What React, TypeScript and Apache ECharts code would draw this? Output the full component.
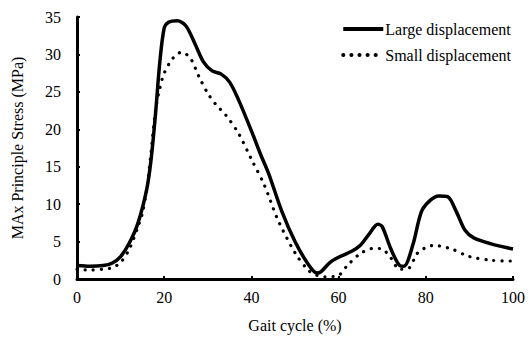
import React, { useEffect, useRef } from "react";
import * as echarts from "echarts";

const seriesNames = ["Large displacement", "Small displacement"];

const largeData: [number, number][] = [
  [0, 1.8], [3, 1.7], [6, 1.8], [8, 2.1], [10, 3.0], [12, 4.8], [14, 7.5], [16, 12],
  [17, 16], [18, 22], [19, 29], [20, 33.5], [21, 34.3], [23, 34.5], [25, 33.8],
  [27, 31.5], [29, 29], [31, 27.8], [33, 27.4], [35, 26.3], [37, 24], [40, 19.8],
  [42, 16.8], [44, 14], [47, 9], [50, 5], [53, 2], [55, 0.8], [56, 1], [58, 2.2],
  [60, 2.9], [63, 3.7], [65, 4.5], [67, 6], [69, 7.3], [70, 7], [72, 4], [74, 1.8],
  [75, 1.7], [77, 4.5], [79, 9], [81, 10.5], [83, 11.1], [85, 11], [87, 9], [89, 6.5],
  [91, 5.5], [95, 4.7], [100, 4.0],
];

const smallData: [number, number][] = [
  [0, 1.3], [3, 1.2], [6, 1.3], [8, 1.5], [10, 2.2], [12, 4], [14, 7], [15, 8.8],
  [16, 12], [17, 17], [18, 22.5], [19, 25.5], [20, 27.5], [22, 29.5], [24, 30.3],
  [26, 29.5], [28, 27], [30, 24.8], [32, 23.2], [34, 22], [37, 19.5], [40, 16],
  [43, 12.5], [46, 8], [50, 3.5], [53, 1.2], [55, 0.5], [57, 0.3], [60, 0.5],
  [62, 1.8], [65, 3.4], [68, 4.1], [70, 4], [72, 2.8], [74, 1.3], [76, 1.4],
  [78, 3.4], [80, 4.2], [82, 4.5], [84, 4.3], [86, 4], [90, 3], [95, 2.5], [100, 2.4],
];

const font = "Liberation Serif";

export default function App() {
  const ref = useRef<HTMLDivElement>(null);
  useEffect(() => {
    if (!ref.current) return;
    const chart = echarts.init(ref.current, undefined, { renderer: "svg" });
    chart.setOption({
      animation: false,
      backgroundColor: "#ffffff",
      textStyle: { fontFamily: font, color: "#000" },
      grid: { left: 77, right: 13, top: 17, bottom: 60, containLabel: false },
      legend: {
        orient: "vertical",
        right: 12,
        top: 16,
        itemWidth: 40,
        itemHeight: 12,
        itemGap: 10,
        itemStyle: { opacity: 0 },
        lineStyle: { width: 4 },
        textStyle: { fontFamily: font, fontSize: 16, color: "#000", padding: [0, 0, 0, -3] },
        data: seriesNames,
      },
      xAxis: {
        type: "value",
        min: 0,
        max: 100,
        interval: 20,
        name: "Gait cycle (%)",
        nameLocation: "middle",
        nameGap: 38,
        nameTextStyle: { fontFamily: font, fontSize: 16, color: "#000" },
        axisLine: { lineStyle: { color: "#000", width: 3 } },
        axisTick: { inside: true, length: 3, lineStyle: { color: "#000", width: 2 } },
        axisLabel: { fontFamily: font, fontSize: 16, color: "#000", margin: 10 },
        splitLine: { show: false },
      },
      yAxis: {
        type: "value",
        min: 0,
        max: 35,
        interval: 5,
        name: "MAx Principle Stress (MPa)",
        nameLocation: "middle",
        nameGap: 52,
        nameTextStyle: { fontFamily: font, fontSize: 16, color: "#000" },
        axisLine: { show: true, lineStyle: { color: "#000", width: 3 } },
        axisTick: { show: true, inside: true, length: 3, lineStyle: { color: "#000", width: 2 } },
        axisLabel: { fontFamily: font, fontSize: 16, color: "#000", margin: 16 },
        splitLine: { show: false },
      },
      series: [
        {
          name: seriesNames[0],
          type: "line",
          data: largeData,
          smooth: 0.3,
          symbol: "none",
          lineStyle: { color: "#000", width: 3.5 },
          itemStyle: { color: "#000" },
        },
        {
          name: seriesNames[1],
          type: "line",
          data: smallData,
          smooth: 0.3,
          symbol: "none",
          lineStyle: { color: "#000", width: 3.2, type: [0.1, 8], cap: "round" },
          itemStyle: { color: "#000" },
        },
      ],
    });
    return () => chart.dispose();
  }, []);
  return (
    <div
      ref={ref}
      style={{ position: "absolute", left: 0, top: 0, width: 528, height: 339 }}
    />
  );
}
